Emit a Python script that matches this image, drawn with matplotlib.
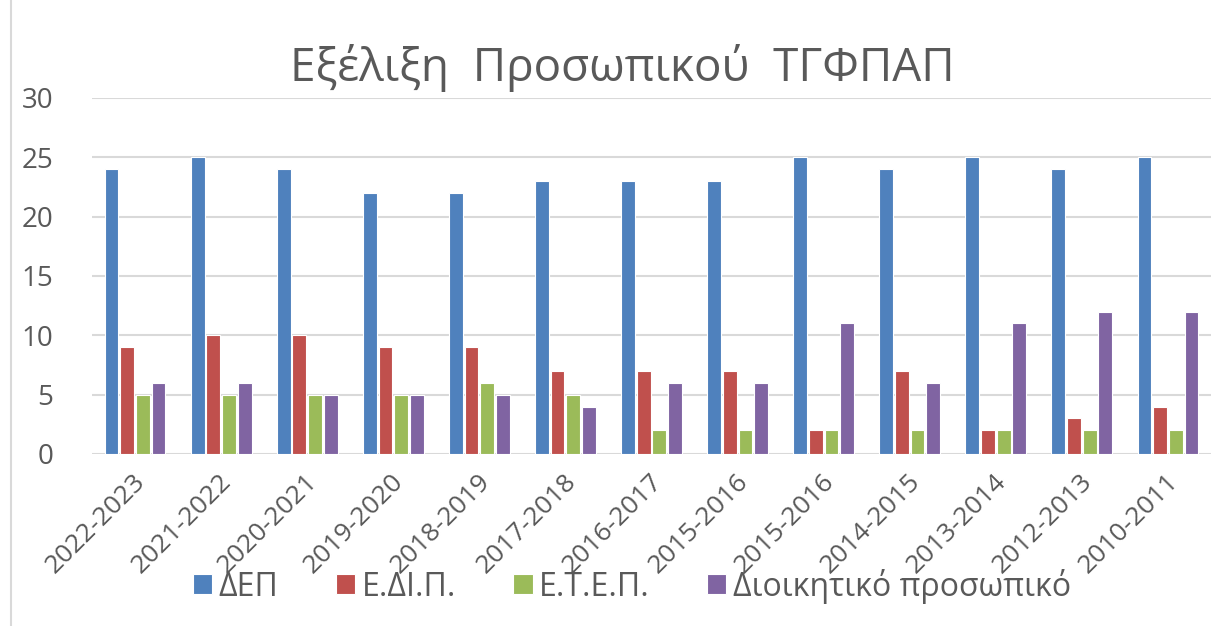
import matplotlib
matplotlib.use("Agg")
import matplotlib.pyplot as plt
import numpy as np
from matplotlib.lines import Line2D
from matplotlib.transforms import ScaledTranslation

plt.rcParams['font.family'] = ['Open Sans', 'DejaVu Sans']

categories = ["2022-2023", "2021-2022", "2020-2021", "2019-2020", "2018-2019",
              "2017-2018", "2016-2017", "2015-2016", "2015-2016", "2014-2015",
              "2013-2014", "2012-2013", "2010-2011"]
dep = [24, 25, 24, 22, 22, 23, 23, 23, 25, 24, 25, 24, 25]
edip = [9, 10, 10, 9, 9, 7, 7, 7, 2, 7, 2, 3, 4]
etep = [5, 5, 5, 5, 6, 5, 2, 2, 2, 2, 2, 2, 2]
admin = [6, 6, 5, 5, 5, 4, 6, 6, 11, 6, 11, 12, 12]
series_names = ["ΔΕΠ", "Ε.ΔΙ.Π.", "Ε.Τ.Ε.Π.", "Διοικητικό προσωπικό"]
colors = ["#4F81BD", "#C0504D", "#9BBB59", "#8064A2"]
title = "Εξέλιξη  Προσωπικού  ΤΓΦΠΑΠ"

W, H = 1225, 626
fig = plt.figure(figsize=(W / 100, H / 100), dpi=100)
ax = fig.add_axes([92 / W, 1 - 454 / H, (1211 - 92) / W, (454 - 98) / H])

x = np.arange(len(categories))
step = 0.182
bw = 0.16
for i, (vals, c, n) in enumerate(zip([dep, edip, etep, admin], colors, series_names)):
    ax.bar(x + (i - 1.5) * step, vals, width=bw, color=c, edgecolor="white",
           linewidth=0.8, label=n, zorder=3)

ax.set_xlim(-0.5, len(categories) - 0.5)
ax.set_ylim(0, 30)
ax.set_yticks(range(0, 31, 5))
ax.yaxis.grid(True, color="#D9D9D9", linewidth=1.5, zorder=0)
ax.set_axisbelow(True)
for s in ax.spines.values():
    s.set_visible(False)
ax.tick_params(axis='both', length=0, colors="#595959")
ax.tick_params(axis='y', pad=28, labelsize=20)
ax.set_xticks(x)
ax.set_xticklabels(categories, rotation=45, ha='right', rotation_mode='anchor',
                   fontsize=19, color="#595959")
ax.tick_params(axis='x', pad=11)
off = ScaledTranslation(-2 / 100, 0, fig.dpi_scale_trans)
for lab in ax.get_xticklabels():
    lab.set_transform(lab.get_transform() + off)

fig.text(622 / W, 1 - 68 / H, title, ha='center', va='center', fontsize=33,
         color="#595959")

leg = fig.legend(loc='center', bbox_to_anchor=(632 / W, 1 - 586 / H), ncol=4,
                 frameon=False, fontsize=23, handlelength=0.6, handleheight=0.6,
                 handletextpad=0.2, columnspacing=1.8, labelcolor="#595959")

fig.add_artist(Line2D([11 / W, 11 / W], [0, 1], transform=fig.transFigure,
                      color="#D9D9D9", linewidth=1.5))

fig.savefig("out.png", dpi=100)
